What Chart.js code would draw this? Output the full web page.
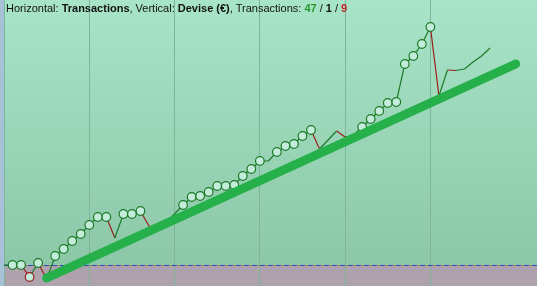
<!DOCTYPE html>
<html lang="fr">
<head>
<meta charset="UTF-8">
<title>Transactions</title>
<style>
body {
    margin: 0;
    padding: 0;
    background-color: #a7c1d9;
    overflow: hidden;
}
#wrap {
    position: absolute;
    left: 4px;
    top: 0;
    width: 533px;
    height: 286px;
}
#caption {
    position: absolute;
    left: 2px;
    top: 2px;
    font-family: "Liberation Sans", Arial, sans-serif;
    font-size: 11px;
    color: #111;
    white-space: nowrap;
    z-index: 2;
}
#caption b { font-weight: bold; }
.win { color: #2a9a2a; }
.loss { color: #c02020; }
</style>
<script src="https://cdn.jsdelivr.net/npm/chart.js"></script>
</head>
<body>
<div id="wrap">
    <div id="caption">Horizontal: <b>Transactions</b>, Vertical: <b>Devise (€)</b>, Transactions: <b class="win">47</b> / <b>1</b> / <b class="loss">9</b></div>
    <canvas id="equity" width="533" height="286"></canvas>
</div>
<script>
// equity after each transaction (index = transaction number)
const equity = [0, 0, 0, -120, 20, -140, 90, 160, 240, 310,
    400, 480, 480, 270, 510, 510, 540, 390, 370, 430,
    510, 600, 680, 690, 730, 790, 790, 800, 890, 960,
    1040, 1040, 1130, 1190, 1210, 1290, 1350, 1160, 1250, 1340,
    1280, 1300, 1380, 1460, 1540, 1620, 1630, 2010, 2090, 2210,
    2380, 1690, 1950, 1945, 1960, 2030, 2090, 2170];
// transactions drawn with a marker
const marked = [1, 2, 3, 4, 6, 7, 8, 9, 10, 11, 12, 14, 15, 16,
    21, 22, 23, 24, 25, 26, 27, 28, 29, 30, 32, 33, 34, 35, 36,
    42, 43, 44, 45, 46, 47, 48, 49, 50];
// regression line ends
const trendX = [5, 60];
const trendY = [-130, 2010];

const GREEN = '#1c7a28';
const RED = '#9a1f1a';

const equityPoints = equity.map((v, i) => ({ x: i, y: v }));
const trendPoints = trendX.map((x, i) => ({ x: x, y: trendY[i] }));

function isDown(i) {
    return i > 0 && equity[i] < equity[i - 1];
}

const backdrop = {
    id: 'backdrop',
    beforeDraw(chart) {
        const { ctx, chartArea: a, scales } = chart;
        const zero = scales.y.getPixelForValue(0);
        ctx.save();
        const g = ctx.createLinearGradient(0, a.top, 0, zero);
        g.addColorStop(0, '#a8e4c8');
        g.addColorStop(1, '#8cc7a8');
        ctx.fillStyle = g;
        ctx.fillRect(a.left, a.top, a.right - a.left, zero - a.top);
        ctx.fillStyle = '#aea3ac';
        ctx.fillRect(a.left, zero, a.right - a.left, a.bottom - zero);
        ctx.restore();
    },
    beforeDatasetsDraw(chart) {
        const { ctx, chartArea: a, scales } = chart;
        const zero = Math.round(scales.y.getPixelForValue(0)) + 0.5;
        ctx.save();
        ctx.lineWidth = 1;
        ctx.strokeStyle = '#b08a6a';
        ctx.beginPath();
        ctx.moveTo(a.left, zero);
        ctx.lineTo(a.right, zero);
        ctx.stroke();
        ctx.strokeStyle = '#2a48c0';
        ctx.setLineDash([5, 3]);
        ctx.beginPath();
        ctx.moveTo(a.left, zero);
        ctx.lineTo(a.right, zero);
        ctx.stroke();
        ctx.restore();
    }
};

new Chart(document.getElementById('equity'), {
    type: 'line',
    data: {
        datasets: [
            {
                label: 'Tendance',
                data: trendPoints,
                borderColor: '#26b04a',
                borderWidth: 9,
                borderCapStyle: 'round',
                pointRadius: 0,
                fill: false
            },
            {
                label: 'Equity',
                data: equityPoints,
                borderWidth: 1.2,
                borderColor: GREEN,
                segment: {
                    borderColor: c => c.p1.parsed.y < c.p0.parsed.y ? RED : GREEN
                },
                pointRadius: equity.map((v, i) => marked.includes(i) ? 4.3 : 0),
                pointBorderWidth: 1.2,
                pointBackgroundColor: '#c4ecda',
                pointBorderColor: equity.map((v, i) => isDown(i) ? RED : GREEN),
                tension: 0,
                fill: false
            }
        ]
    },
    options: {
        responsive: false,
        animation: false,
        layout: { padding: 0 },
        plugins: {
            legend: { display: false },
            tooltip: { enabled: false }
        },
        scales: {
            x: {
                type: 'linear',
                min: 0,
                max: 62.5,
                ticks: { display: false, stepSize: 10 },
                grid: {
                    drawTicks: false,
                    color: c => (c.tick && c.tick.value % 10 === 0) ? '#7db699' : 'rgba(0,0,0,0)',
                    lineWidth: 1
                },
                border: { display: false }
            },
            y: {
                type: 'linear',
                min: -210,
                max: 2650,
                ticks: { display: false },
                grid: { display: false, drawTicks: false },
                border: { display: false }
            }
        }
    },
    plugins: [backdrop]
});
</script>
</body>
</html>
